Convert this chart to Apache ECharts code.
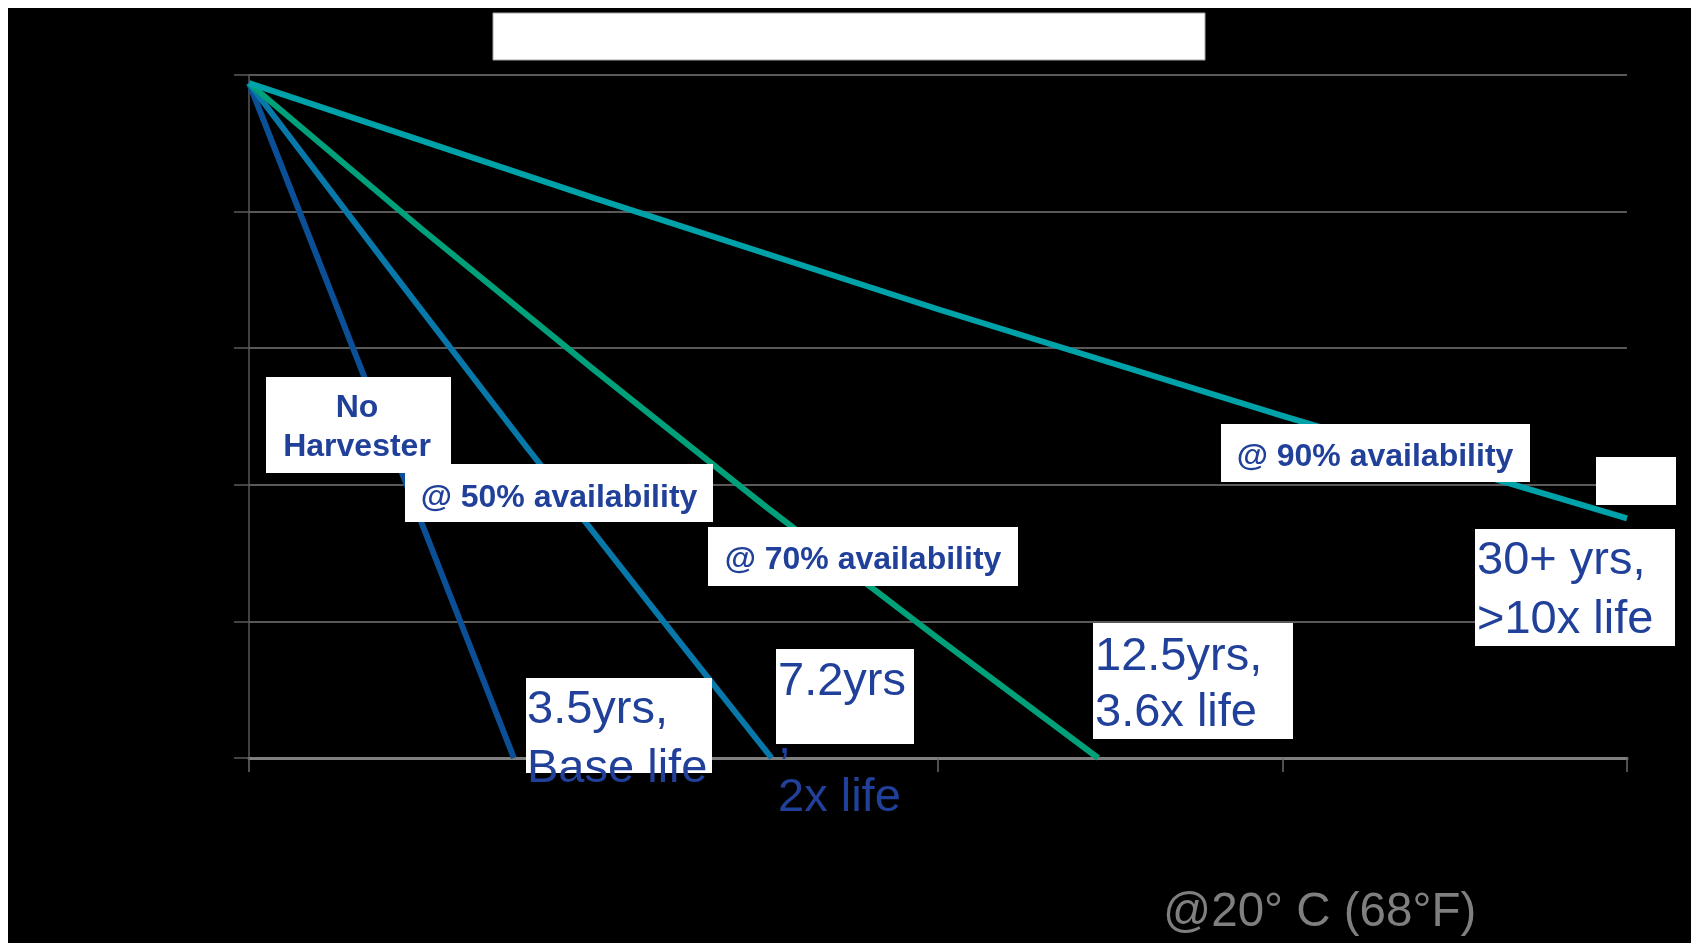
<!DOCTYPE html>
<html>
<head>
<meta charset="utf-8">
<script src="https://cdn.jsdelivr.net/npm/echarts@6/dist/echarts.min.js"></script>
<style>
html,body{margin:0;padding:0;background:#fff;}
#c{width:1691px;height:943px;}
</style>
</head>
<body>
<div id="c"></div>
<script>
// ---- data ----
const seriesNames = ['No Harvester', '@ 50% availability', '@ 70% availability', '@ 90% availability'];
const noHarvester = [[0, 98.8], [7.69, 0]];
const avail50 = [[0, 98.8], [4, 72.2], [8, 45.9], [12, 20.2], [15.17, 0]];
const avail70 = [[0, 98.8], [5, 77.5], [10, 56.9], [15, 36.8], [20, 17.5], [24.65, 0]];
const avail90 = [[0, 98.8], [10, 82.0], [20, 65.7], [30, 50.1], [40, 35.1]];
const xTicks = [0, 10, 20, 30, 40];
const yTicks = [0, 20, 40, 60, 80, 100];
const lineColors = ['#0b4f97', '#0878aa', '#00a07a', '#00a2aa'];

const BLUE = '#21409a';
const FONT = '"Liberation Sans", Arial, Helvetica, sans-serif';

function box(x, y, w, h, extra) {
  return Object.assign({type: 'rect', z: 100, shape: {x: x, y: y, width: w, height: h}, style: {fill: '#ffffff'}}, extra || {});
}
function txt(x, y, text, size, weight, align, lh, color) {
  return {
    type: 'text', z: 101, x: x, y: y,
    style: {
      text: text, fontSize: size, fontFamily: FONT, fontWeight: weight,
      fill: color || BLUE, align: align, textAlign: align,
      verticalAlign: 'top', textVerticalAlign: 'top', lineHeight: lh
    }
  };
}

const chart = echarts.init(document.getElementById('c'));
chart.setOption({
  backgroundColor: '#000000',
  animation: false,
  grid: {left: 249, right: 64, top: 75, bottom: 185},
  xAxis: {
    type: 'value', min: xTicks[0], max: xTicks[xTicks.length - 1], interval: 10,
    axisLine: {show: true, onZero: false, lineStyle: {color: '#7f7f7f', width: 3}},
    axisTick: {show: true, length: 14, lineStyle: {color: '#6a6a6a', width: 1.5}},
    axisLabel: {show: false},
    splitLine: {show: false}
  },
  yAxis: {
    type: 'value', min: yTicks[0], max: yTicks[yTicks.length - 1], interval: 20,
    axisLine: {show: true, onZero: false, lineStyle: {color: '#595959', width: 1.5}},
    axisTick: {show: true, length: 15, lineStyle: {color: '#595959', width: 1.5}},
    axisLabel: {show: false},
    splitLine: {show: true, lineStyle: {color: '#595959', width: 2}}
  },
  series: [noHarvester, avail50, avail70, avail90].map(function (d, i) {
    return {
      name: seriesNames[i], type: 'line', data: d, showSymbol: false, symbol: 'none',
      lineStyle: {color: lineColors[i], width: 6, join: 'round'}, z: 2 + i
    };
  }),
  graphic: [
    // white border of the slide
    box(0, 0, 1691, 8),
    box(0, 0, 8, 943),
    // title box
    box(493, 13, 712, 47, {style: {fill: '#ffffff', stroke: '#a6a6a6', lineWidth: 1}}),
    // series name boxes
    box(266, 377, 185, 96),
    txt(357, 389, 'No\nHarvester', 32, 'bold', 'center', 39),
    box(405, 464, 308, 58),
    txt(559, 479, '@ 50% availability', 32, 'bold', 'center', 39),
    box(708, 527, 310, 59),
    txt(863, 541, '@ 70% availability', 32, 'bold', 'center', 39),
    box(1221, 424, 309, 58),
    txt(1375, 438, '@ 90% availability', 32, 'bold', 'center', 39),
    box(1596, 457, 80, 48),
    // life boxes
    box(526, 678, 186, 95),
    txt(527, 681, '3.5yrs,\nBase life', 47, 'normal', 'left', 59),
    box(776, 649, 138, 95),
    txt(778, 653, '7.2yrs\n,\n2x life', 47, 'normal', 'left', 58),
    box(1093, 623, 200, 116),
    txt(1095, 629, '12.5yrs,\n3.6x life', 47, 'normal', 'left', 56),
    box(1475, 529, 200, 117),
    txt(1477, 532, '30+ yrs,\n>10x life', 47, 'normal', 'left', 59),
    // temperature note
    txt(1163, 885, '@20\u00b0 C (68\u00b0F)', 47.5, 'normal', 'left', 56, '#7f7f7f')
  ]
});
</script>
</body>
</html>
